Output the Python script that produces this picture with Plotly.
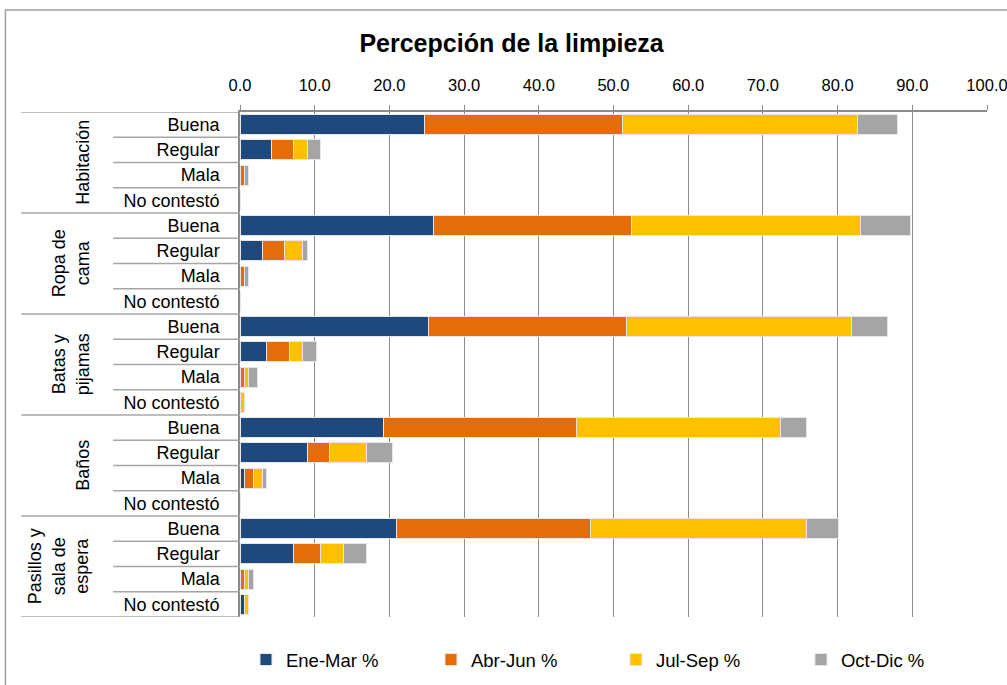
import plotly.graph_objects as go

# Grupos y respuestas (orden de arriba hacia abajo)
grupos = ["Habitación", "Ropa de<br>cama", "Batas y<br>pijamas", "Baños",
          "Pasillos y<br>sala de<br>espera"]
respuestas = ["Buena", "Regular", "Mala", "No contestó"]

# Porcentajes por trimestre, 4 respuestas por grupo
ene_mar = [24.7, 4.2, 0.0, 0.0, 25.9, 3.0, 0.0, 0.0, 25.3, 3.5, 0.0, 0.0,
           19.2, 9.0, 0.6, 0.0, 21.0, 7.2, 0.0, 0.6]
abr_jun = [26.5, 2.9, 0.6, 0.0, 26.5, 2.9, 0.6, 0.0, 26.5, 3.1, 0.6, 0.0,
           25.9, 3.0, 1.2, 0.0, 25.9, 3.6, 0.6, 0.0]
jul_sep = [31.4, 1.9, 0.0, 0.0, 30.7, 2.5, 0.0, 0.0, 30.1, 1.8, 0.6, 0.6,
           27.2, 4.9, 1.2, 0.0, 29.0, 3.1, 0.6, 0.6]
oct_dic = [5.4, 1.8, 0.6, 0.0, 6.7, 0.6, 0.6, 0.0, 4.8, 1.8, 1.2, 0.0,
           3.6, 3.5, 0.6, 0.0, 4.2, 3.0, 0.6, 0.0]

series = [
    ("Ene-Mar %", ene_mar, "#1F497D"),
    ("Abr-Jun %", abr_jun, "#E46C0A"),
    ("Jul-Sep %", jul_sep, "#FFC000"),
    ("Oct-Dic %", oct_dic, "#A5A5A5"),
]

etiquetas = [r for _ in grupos for r in respuestas]
posiciones = list(range(len(etiquetas)))

FONT = "Liberation Sans, Arial, sans-serif"
GRIS = "#8c8c8c"

fig = go.Figure()
for nombre, valores, color in series:
    fig.add_trace(go.Bar(
        x=valores,
        y=posiciones,
        name=nombre,
        orientation="h",
        marker=dict(color=color, line=dict(color="#e6e6e6", width=1)),
    ))

# Separadores del eje de categorías (estilo Excel)
n = len(respuestas)
shapes = []
for b in range(len(etiquetas) + 1):
    x0 = -0.2928 if b % n == 0 else -0.1698
    shapes.append(dict(type="line", xref="paper", yref="y",
                       x0=x0, x1=0, y0=b - 0.5, y1=b - 0.5,
                       line=dict(color="#a6a6a6", width=1.5)))
# Borde del gráfico
shapes.append(dict(type="rect", xref="paper", yref="paper",
                   x0=-0.314, x1=1.04, y0=-0.2, y1=1.202,
                   line=dict(color="#a0a0a0", width=1.5), layer="below"))

annotations = []
for i, g in enumerate(grupos):
    annotations.append(dict(
        text=g, xref="paper", yref="y",
        x=-0.1951, y=i * n + (n - 1) / 2,
        xanchor="right", yanchor="middle",
        textangle=-90, showarrow=False, align="center",
        font=dict(family=FONT, size=18, color="#000"),
    ))

fig.update_layout(
    barmode="stack",
    bargap=0.2,
    width=1007, height=685,
    margin=dict(l=240, r=20, t=112, b=68),
    paper_bgcolor="white",
    plot_bgcolor="white",
    font=dict(family=FONT, color="#000"),
    title=dict(text="<b>Percepción de la limpieza</b>", x=0.508, xanchor="center",
               y=0.937, yanchor="middle", font=dict(size=25, color="#000")),
    xaxis=dict(
        side="top", range=[0, 100], dtick=10, tickformat=".1f",
        showline=True, linecolor=GRIS, linewidth=1.5,
        ticks="outside", ticklen=5, tickcolor=GRIS,
        showgrid=True, gridcolor=GRIS, gridwidth=1,
        zeroline=False, ticklabelstandoff=8, automargin=False,
        ticklabeloverflow="allow",
        tickfont=dict(size=16.5, color="#000"),
    ),
    yaxis=dict(
        tickvals=posiciones, ticktext=etiquetas,
        range=[len(etiquetas) - 0.5, -0.5],
        showline=True, linecolor=GRIS, linewidth=1.5,
        ticks="", showgrid=False, zeroline=False,
        ticklabelstandoff=15, automargin=False,
        tickfont=dict(size=18, color="#000"),
    ),
    legend=dict(
        orientation="h", x=0.008, xanchor="left",
        yref="container", y=0.0365, yanchor="middle",
        entrywidth=140, entrywidthmode="pixels",
        font=dict(size=18.5, color="#000"), traceorder="normal",
    ),
    shapes=shapes,
    annotations=annotations,
)

# la página trae 8 px de margen en el body; lo quitamos para que cuadre
fig.write_html("out.html", config={"displayModeBar": False},
               post_script="document.body.style.margin = '0';")
